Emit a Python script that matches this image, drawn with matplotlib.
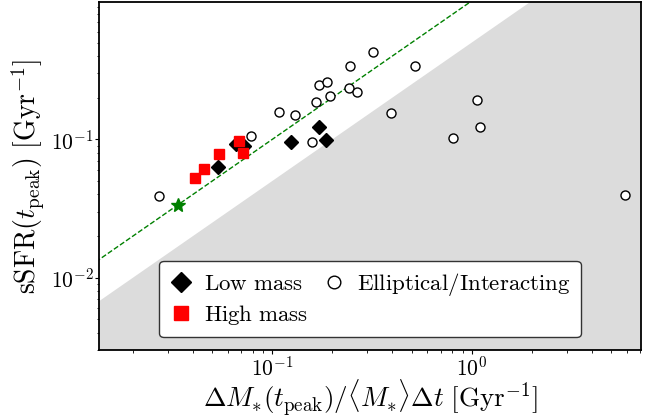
import numpy as np
import matplotlib
matplotlib.use("Agg")
import matplotlib.pyplot as plt

plt.rcParams["font.family"] = ["cmr10", "DejaVu Serif"]
plt.rcParams["mathtext.fontset"] = "cm"
plt.rcParams["axes.formatter.use_mathtext"] = True
plt.rcParams["axes.unicode_minus"] = False

# data
ell_x = [0.027, 0.078, 0.108, 0.130, 0.158, 0.165, 0.172, 0.189, 0.195, 0.243,
         0.246, 0.265, 0.320, 0.394, 0.521, 0.805, 1.067, 1.10, 5.90]
ell_y = [0.0389, 0.1054, 0.157, 0.149, 0.0962, 0.187, 0.248, 0.258, 0.207, 0.236,
         0.336, 0.221, 0.430, 0.154, 0.340, 0.103, 0.192, 0.123, 0.0398]

low_x = [0.0533, 0.0654, 0.0720, 0.1245, 0.1707, 0.186]
low_y = [0.0634, 0.0925, 0.0900, 0.0962, 0.1228, 0.0989]

high_x = [0.0410, 0.0455, 0.0542, 0.0680, 0.0714]
high_y = [0.0528, 0.0607, 0.0787, 0.0973, 0.0800]

star_x = [0.0336]
star_y = [0.0336]

xlim = (0.01355, 7.05)
ylim = (0.0030, 0.975)

fig = plt.figure(figsize=(6.6, 4.16), dpi=100)
ax = fig.add_axes([0.1505, 0.1587, 0.8203, 0.8353])
ax.set_xscale("log")
ax.set_yscale("log")

# excluded region below sSFR = 0.5 x, and one-to-one line
xx = np.logspace(-2.5, 1.5, 200)
ax.fill_between(xx, 1e-4, 0.5 * xx, color="#dcdcdc", lw=0, zorder=0)
ax.plot(xx, xx, ls="--", color="green", lw=1, zorder=1)

ax.plot(ell_x, ell_y, "o", mfc="white", mec="black", mew=1, ms=6.5, ls="none",
        label=r"$\mathrm{Elliptical/Interacting}$", zorder=3)
ax.plot(low_x, low_y, "D", color="black", ms=7.5, ls="none",
        label=r"$\mathrm{Low\ mass}$", zorder=4)
ax.plot(high_x, high_y, "s", color="red", ms=7, ls="none",
        label=r"$\mathrm{High\ mass}$", zorder=5)
ax.plot(star_x, star_y, "*", color="green", ms=10, ls="none", zorder=6)

ax.set_xlim(*xlim)
ax.set_ylim(*ylim)

ax.set_xlabel(r"$\Delta M_{*}(t_{\rm peak})/\langle M_{*}\rangle \Delta t\ [{\rm Gyr}^{-1}]$",
              fontsize=19.5, labelpad=-1.5)
ax.set_ylabel(r"$\mathrm{sSFR}(t_{\rm peak})\ [\mathrm{Gyr}^{-1}]$", fontsize=20, labelpad=3)
ax.tick_params(which="major", labelsize=15.5, length=3, width=0.8, pad=1)
ax.tick_params(which="minor", length=1.8, width=0.6)
for s in ax.spines.values():
    s.set_linewidth(1.3)

handles, labels = ax.get_legend_handles_labels()
order = [1, 2, 0]
leg = ax.legend([handles[i] for i in order], [labels[i] for i in order], ncol=2,
                loc="lower center", bbox_to_anchor=(0.5, 0.003), fontsize=16.5,
                frameon=True, fancybox=True, framealpha=1, edgecolor="#333333",
                markerscale=1.4, handlelength=1.0, handletextpad=0.5,
                columnspacing=0.6, borderpad=0.45, labelspacing=0.4)

fig.savefig("out.png", dpi=100)
